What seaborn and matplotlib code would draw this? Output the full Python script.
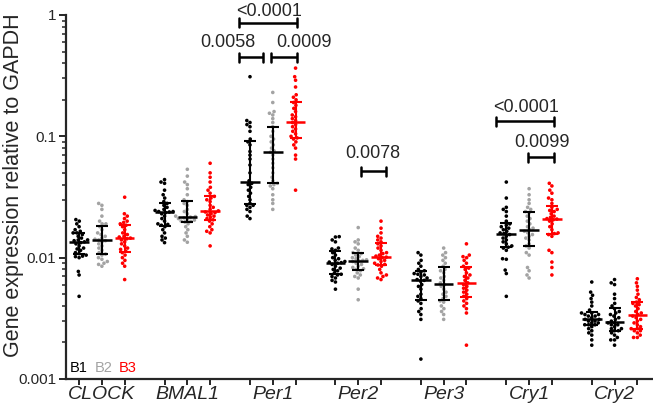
import numpy as np
import pandas as pd
import matplotlib
matplotlib.use("Agg")
import matplotlib.pyplot as plt
import seaborn as sns
from matplotlib.ticker import FixedLocator, LogLocator, NullFormatter

GENES = ["CLOCK", "BMAL1", "Per1", "Per2", "Per3", "Cry1", "Cry2"]
BATCHES = ["B1", "B2", "B3"]

# expression values relative to GAPDH
clock_b1 = [0.0206, 0.020, 0.019, 0.018, 0.017, 0.0165, 0.016, 0.016, 0.0155, 0.015,
            0.0145, 0.014, 0.014, 0.0138, 0.0135, 0.0133, 0.013, 0.0125, 0.012, 0.0118,
            0.0115, 0.011, 0.0108, 0.0105, 0.0103, 0.0102, 0.010, 0.0077, 0.0072, 0.0048]
clock_b2 = [0.028, 0.027, 0.025, 0.022, 0.020, 0.019, 0.019, 0.018, 0.017, 0.016,
            0.0155, 0.015, 0.0145, 0.0142, 0.014, 0.0138, 0.0135, 0.013, 0.0125, 0.012,
            0.0115, 0.011, 0.0107, 0.0105, 0.010, 0.0097, 0.0093, 0.009, 0.0088, 0.0085]
clock_b3 = [0.0315, 0.023, 0.022, 0.021, 0.020, 0.0195, 0.019, 0.0185, 0.018, 0.017,
            0.016, 0.0155, 0.015, 0.0148, 0.0145, 0.0143, 0.014, 0.0135, 0.013, 0.0125,
            0.012, 0.0117, 0.0113, 0.011, 0.0105, 0.010, 0.0095, 0.009, 0.0085, 0.0066]

bmal1_b1 = [0.044, 0.042, 0.041, 0.036, 0.033, 0.031, 0.029, 0.028, 0.027, 0.026,
            0.025, 0.0245, 0.024, 0.024, 0.0238, 0.0235, 0.023, 0.022, 0.021, 0.020,
            0.019, 0.0188, 0.0185, 0.018, 0.017, 0.016, 0.015, 0.0145, 0.014, 0.0133]
bmal1_b2 = [0.0535, 0.047, 0.042, 0.040, 0.037, 0.033, 0.030, 0.029, 0.028, 0.027,
            0.025, 0.024, 0.023, 0.022, 0.0218, 0.0216, 0.0213, 0.021, 0.0207, 0.0204,
            0.020, 0.0199, 0.0197, 0.019, 0.018, 0.017, 0.016, 0.015, 0.014, 0.0134]
bmal1_b3 = [0.060, 0.050, 0.046, 0.042, 0.038, 0.036, 0.034, 0.032, 0.031, 0.030,
            0.029, 0.027, 0.026, 0.025, 0.0243, 0.0238, 0.0235, 0.023, 0.0225, 0.022,
            0.0215, 0.021, 0.0205, 0.020, 0.019, 0.018, 0.017, 0.0165, 0.016, 0.0125]

per1_b1 = [0.31, 0.135, 0.13, 0.125, 0.12, 0.11, 0.095, 0.09, 0.085, 0.075,
           0.07, 0.065, 0.058, 0.05, 0.043, 0.041, 0.04, 0.038, 0.036, 0.034,
           0.032, 0.03, 0.028, 0.027, 0.027, 0.026, 0.025, 0.024, 0.022, 0.021]
per1_b2 = [0.23, 0.19, 0.16, 0.155, 0.15, 0.14, 0.13, 0.12, 0.11, 0.10,
           0.095, 0.09, 0.085, 0.08, 0.076, 0.074, 0.07, 0.065, 0.06, 0.055,
           0.05, 0.046, 0.043, 0.041, 0.04, 0.039, 0.037, 0.033, 0.03, 0.028, 0.025]
per1_b3 = [0.365, 0.31, 0.29, 0.255, 0.22, 0.21, 0.2, 0.19, 0.18, 0.17,
           0.16, 0.15, 0.145, 0.14, 0.135, 0.13, 0.125, 0.12, 0.115, 0.11,
           0.105, 0.1, 0.097, 0.095, 0.09, 0.085, 0.08, 0.07, 0.065, 0.036]

per2_b1 = [0.0149, 0.0148, 0.014, 0.0135, 0.012, 0.0118, 0.0115, 0.011, 0.0105, 0.010,
           0.0098, 0.0095, 0.0093, 0.0092, 0.0091, 0.009, 0.0088, 0.0085, 0.0082, 0.008,
           0.0078, 0.0075, 0.0073, 0.0072, 0.007, 0.0068, 0.0065, 0.0063, 0.0055]
per2_b2 = [0.0177, 0.014, 0.0135, 0.013, 0.012, 0.0115, 0.011, 0.0108, 0.0105, 0.0102,
           0.010, 0.0098, 0.0096, 0.0095, 0.0094, 0.0093, 0.009, 0.0088, 0.0085, 0.0083,
           0.0081, 0.008, 0.0078, 0.0075, 0.0072, 0.007, 0.0068, 0.0055, 0.0045]
per2_b3 = [0.020, 0.0175, 0.016, 0.015, 0.0145, 0.014, 0.0135, 0.013, 0.0125, 0.012,
           0.0115, 0.011, 0.0108, 0.0105, 0.0103, 0.0101, 0.010, 0.0098, 0.0095, 0.0093,
           0.009, 0.0088, 0.0087, 0.0085, 0.008, 0.0075, 0.0072, 0.007, 0.0068, 0.0066]

per3_b1 = [0.011, 0.0105, 0.0095, 0.009, 0.0085, 0.008, 0.0078, 0.0076, 0.0074, 0.0073,
           0.0072, 0.007, 0.0068, 0.0066, 0.0065, 0.0064, 0.006, 0.0058, 0.0055, 0.005,
           0.0048, 0.0046, 0.0044, 0.0042, 0.0038, 0.0036, 0.0034, 0.0031, 0.00146]
per3_b2 = [0.012, 0.011, 0.0105, 0.01, 0.0095, 0.009, 0.0085, 0.008, 0.0078, 0.0075,
           0.007, 0.0068, 0.0065, 0.0062, 0.006, 0.0058, 0.0055, 0.0052, 0.005, 0.0048,
           0.0046, 0.0044, 0.0043, 0.004, 0.0038, 0.0036, 0.0034, 0.0031]
per3_b3 = [0.013, 0.0105, 0.0102, 0.01, 0.0095, 0.009, 0.0085, 0.0082, 0.008, 0.0075,
           0.0072, 0.007, 0.0068, 0.0065, 0.0062, 0.006, 0.0058, 0.0056, 0.0054, 0.0052,
           0.005, 0.0048, 0.0046, 0.0044, 0.0042, 0.004, 0.0038, 0.0035, 0.0019]

cry1_b1 = [0.042, 0.031, 0.026, 0.025, 0.024, 0.022, 0.02, 0.019, 0.0185, 0.018,
           0.0175, 0.017, 0.0165, 0.016, 0.0158, 0.0155, 0.015, 0.0145, 0.014, 0.0135,
           0.013, 0.0125, 0.0122, 0.012, 0.0115, 0.0098, 0.0097, 0.0079, 0.0074, 0.0048]
cry1_b2 = [0.037, 0.033, 0.03, 0.028, 0.026, 0.025, 0.024, 0.0235, 0.022, 0.021,
           0.02, 0.019, 0.018, 0.0175, 0.017, 0.0165, 0.016, 0.0155, 0.015, 0.0145,
           0.014, 0.013, 0.0125, 0.012, 0.011, 0.0105, 0.0083, 0.0078, 0.0072, 0.0068]
cry1_b3 = [0.041, 0.039, 0.036, 0.034, 0.031, 0.03, 0.028, 0.026, 0.025, 0.0245,
           0.024, 0.023, 0.022, 0.0215, 0.021, 0.0208, 0.0205, 0.02, 0.019, 0.018,
           0.017, 0.016, 0.0158, 0.0155, 0.015, 0.0115, 0.011, 0.0092, 0.0083, 0.0072]

cry2_b1 = [0.0063, 0.0052, 0.0049, 0.0046, 0.0043, 0.004, 0.0037, 0.0035, 0.0035, 0.0034,
           0.0034, 0.0033, 0.0033, 0.0032, 0.0031, 0.0031, 0.003, 0.003, 0.0029, 0.0029,
           0.0028, 0.0028, 0.0028, 0.0027, 0.0026, 0.0025, 0.0024, 0.0023, 0.0021, 0.0019]
cry2_b2 = [0.0066, 0.0062, 0.006, 0.005, 0.0046, 0.0042, 0.004, 0.0038, 0.0036, 0.0035,
           0.0034, 0.0033, 0.0032, 0.0031, 0.003, 0.0029, 0.0029, 0.0028, 0.0028, 0.0027,
           0.0026, 0.0026, 0.0025, 0.0025, 0.0024, 0.0023, 0.0022, 0.0021, 0.0021, 0.0019]
cry2_b3 = [0.0067, 0.0062, 0.0058, 0.0054, 0.005, 0.0047, 0.0045, 0.0043, 0.0042, 0.0041,
           0.004, 0.0038, 0.0036, 0.0035, 0.0034, 0.0033, 0.0032, 0.0031, 0.003, 0.0029,
           0.0028, 0.0027, 0.0026, 0.0026, 0.0025, 0.0025, 0.0024, 0.0023, 0.0022, 0.0022]

# p values: (gene, left offset, right offset, bracket y, text, text x offset, text y)
brackets = [
    ("Per1", -0.40, 0.28, 0.86, "<0.0001", -0.04, 0.98),
    ("Per1", -0.39, -0.12, 0.449, "0.0058", -0.53, 0.544),
    ("Per1", -0.02, 0.28, 0.449, "0.0009", 0.36, 0.544),
    ("Per2", 0.03, 0.33, 0.0514, "0.0078", 0.17, 0.0658),
    ("Cry1", -0.39, 0.29, 0.133, "<0.0001", -0.04, 0.158),
    ("Cry1", -0.01, 0.29, 0.067, "0.0099", 0.15, 0.081),
]

series = {
    ("CLOCK", "B1"): clock_b1, ("CLOCK", "B2"): clock_b2, ("CLOCK", "B3"): clock_b3,
    ("BMAL1", "B1"): bmal1_b1, ("BMAL1", "B2"): bmal1_b2, ("BMAL1", "B3"): bmal1_b3,
    ("Per1", "B1"): per1_b1, ("Per1", "B2"): per1_b2, ("Per1", "B3"): per1_b3,
    ("Per2", "B1"): per2_b1, ("Per2", "B2"): per2_b2, ("Per2", "B3"): per2_b3,
    ("Per3", "B1"): per3_b1, ("Per3", "B2"): per3_b2, ("Per3", "B3"): per3_b3,
    ("Cry1", "B1"): cry1_b1, ("Cry1", "B2"): cry1_b2, ("Cry1", "B3"): cry1_b3,
    ("Cry2", "B1"): cry2_b1, ("Cry2", "B2"): cry2_b2, ("Cry2", "B3"): cry2_b3,
}
rows = [(g, b, v) for (g, b), vals in series.items() for v in vals]
df = pd.DataFrame(rows, columns=["gene", "batch", "value"])

BLACK, GREY, RED = "#000000", "#a3a3a3", "#ff0000"
BAR_COLORS = {"B1": BLACK, "B2": BLACK, "B3": RED}

sns.set_style("ticks")
plt.rcParams["font.family"] = ["Liberation Sans", "DejaVu Sans"]

fig = plt.figure(figsize=(6.53, 4.08), dpi=100)
ax = fig.add_axes([66 / 653, 29 / 408, 587 / 653, 364 / 408])
ax.set_yscale("log")

is_cry2_b2 = (df["gene"] == "Cry2") & (df["batch"] == "B2")
swarm_kw = dict(x="gene", y="value", hue="batch", order=GENES, hue_order=BATCHES,
                dodge=True, size=2.6, linewidth=0, legend=False, ax=ax)
sns.swarmplot(data=df[~is_cry2_b2], palette={"B1": BLACK, "B2": GREY, "B3": RED}, **swarm_kw)
# Cry2 B2 dots are black in the original
sns.swarmplot(data=df[is_cry2_b2], palette={"B1": BLACK, "B2": BLACK, "B3": RED}, **swarm_kw)

# median with interquartile range, at the same dodged positions as the swarms
offs = np.array([-1, 0, 1]) * 0.8 / 3
for (g, b), vals in series.items():
    x = GENES.index(g) + offs[BATCHES.index(b)]
    q1, med, q3 = np.percentile(vals, [25, 50, 75], method="weibull")
    col = BAR_COLORS[b]
    ax.errorbar([x], [med], yerr=[[med - q1], [q3 - med]], fmt="none", ecolor=col,
                elinewidth=1.5, capsize=4.6, capthick=1.5, zorder=4)
    ax.hlines(med, x - 0.115, x + 0.115, color=col, lw=1.8, zorder=4)

ax.set_ylim(0.001, 1)
ax.set_xlim(-0.42, 6.45)

ax.set_xticks([i + o for i in range(len(GENES)) for o in offs])
ax.set_xticklabels([])
ax.tick_params(axis="x", which="major", length=4.5, width=1.4, direction="out")
# gene names centred under each group
for i, g in enumerate(GENES):
    ax.text(i, -0.018, g, transform=ax.get_xaxis_transform(), ha="center", va="top",
            fontsize=14, fontstyle="italic", clip_on=False)

ax.yaxis.set_major_locator(FixedLocator([0.001, 0.01, 0.1, 1]))
ax.set_yticklabels(["0.001", "0.01", "0.1", "1"])
ax.yaxis.set_minor_locator(LogLocator(base=10, subs=np.arange(2, 10)))
ax.yaxis.set_minor_formatter(NullFormatter())
ax.tick_params(axis="y", which="major", length=5, width=1.4, labelsize=11, pad=2)
ax.tick_params(axis="y", which="minor", length=3, width=1.1)

ax.set_xlabel("")
ax.set_ylabel("Gene expression relative to GAPDH", fontsize=15.5)
ax.yaxis.set_label_coords(-0.072, 0.532)

for side in ["top", "right"]:
    ax.spines[side].set_visible(False)
for side in ["left", "bottom"]:
    ax.spines[side].set_linewidth(1.6)

cap = 10 ** (4.5 / 121)
for gene, x0, x1, yb, label, tx, ty in brackets:
    c = GENES.index(gene)
    ax.plot([c + x0, c + x1], [yb, yb], color="black", lw=1.8, clip_on=False, solid_capstyle="butt")
    for xe in (c + x0, c + x1):
        ax.plot([xe, xe], [yb / cap, yb * cap], color="black", lw=1.8, clip_on=False)
    ax.text(c + tx, ty, label, ha="center", va="baseline", fontsize=13, clip_on=False)

for x, name, col in [(0.007, "B1", BLACK), (0.049, "B2", GREY), (0.090, "B3", RED)]:
    ax.text(x, 0.019, name, color=col, fontsize=10.5, transform=ax.transAxes,
            ha="left", va="baseline")

fig.savefig("out.png", dpi=100)
